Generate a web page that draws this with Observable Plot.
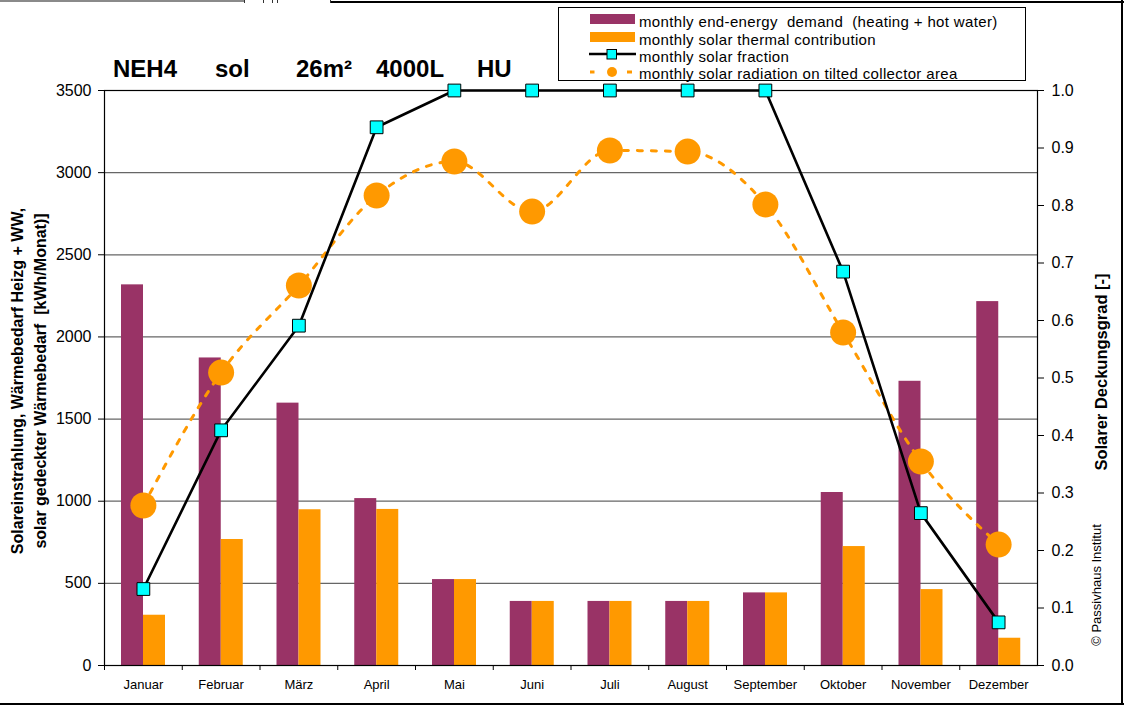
<!DOCTYPE html>
<html><head><meta charset="utf-8">
<script src="https://cdn.jsdelivr.net/npm/d3@7"></script>
<script src="https://cdn.jsdelivr.net/npm/@observablehq/plot@0.6"></script>
<style>
html,body{margin:0;padding:0;background:#fff;overflow:hidden}
#wrap{position:relative;width:1124px;height:707px;font-family:"Liberation Sans",Arial,sans-serif;color:#000}
.abs{position:absolute;white-space:pre}
.rot{position:absolute;transform:translate(-50%,-50%) rotate(-90deg);white-space:pre;text-align:center}
</style></head><body><div id="wrap"></div>
<script>
// ---- data ----
const months = ["Januar","Februar","März","April","Mai","Juni","Juli","August","September","Oktober","November","Dezember"];
const demand = [2317, 1872, 1597, 1016, 523, 390, 390, 390, 442, 1053, 1730, 2215];
const solarThermal = [306, 767, 948, 950, 523, 390, 390, 390, 442, 724, 462, 166];
const solarFraction = [0.133, 0.409, 0.591, 0.936, 1.0, 1.0, 1.0, 1.0, 1.0, 0.685, 0.265, 0.075];
const radiation = [974, 1783, 2313, 2861, 3068, 2763, 3135, 3128, 2806, 2027, 1242, 736];
const leftTicks = [0, 500, 1000, 1500, 2000, 2500, 3000, 3500];
const rightTicks = [0, 0.1, 0.2, 0.3, 0.4, 0.5, 0.6, 0.7, 0.8, 0.9, 1.0];
const titleWords = ["NEH4", "sol", "26m²", "4000L", "HU"];
const legendLabels = [
  "monthly end-energy  demand  (heating + hot water)",
  "monthly solar thermal contribution",
  "monthly solar fraction",
  "monthly solar radiation on tilted collector area"
];
const leftAxisTitle = ["Solareinstrahlung, Wärmebedarf Heizg + WW,", "solar gedeckter Wärmebedarf  [kWh/Monat)]"];
const rightAxisTitle = "Solarer Deckungsgrad [-]";
const copyright = "© Passivhaus Institut";

// ---- chart ----
const yMax = 3500;
const data = months.map((m, i) => ({month: m, demand: demand[i], solar: solarThermal[i], frac: solarFraction[i], rad: radiation[i]}));
const W = 1124, H = 707, mL = 104, mR = 87, mT = 90, mB = 42;
const bw = (W - mL - mR) / months.length;
const font = "Liberation Sans, Arial, sans-serif";

const chart = Plot.plot({
  width: W, height: H, marginLeft: mL, marginRight: mR, marginTop: mT, marginBottom: mB,
  style: {fontFamily: font, color: "#000", background: "transparent", overflow: "visible"},
  x: {type: "band", domain: months, padding: 0, round: false, axis: null},
  y: {domain: [0, yMax], axis: null},
  marks: [
    Plot.ruleY(leftTicks.filter(v => v > 0 && v < yMax), {stroke: "#666", strokeWidth: 1.2}),
    Plot.barY(data, {x: "month", y: "demand", fill: "#993366", insetLeft: 17, insetRight: bw - 39}),
    Plot.barY(data, {x: "month", y: "solar", fill: "#FF9900", insetLeft: 39, insetRight: bw - 61}),
    Plot.frame({stroke: "#000", strokeWidth: 1.2}),
    Plot.axisY({anchor: "left", ticks: leftTicks, tickSize: 6, tickPadding: 7, tickFormat: d3.format("d"), fontSize: 16, label: null}),
    Plot.axisY({anchor: "right", ticks: rightTicks.map(v => v * yMax), tickSize: 6, tickPadding: 8, tickFormat: d => (d / yMax).toFixed(1), fontSize: 16, label: null}),
    Plot.axisX({anchor: "bottom", tickSize: 0, tickPadding: 14, fontSize: 13, label: null}),
    Plot.axisX({anchor: "bottom", tickSize: 5, tickFormat: () => "", dx: -bw / 2, label: null}),
    Plot.line(data, {x: "month", y: "rad", stroke: "#FF9900", strokeWidth: 3, strokeDasharray: "5,9", curve: "monotone-x"}),
    Plot.dot(data, {x: "month", y: "rad", r: 13, fill: "#FF9900"}),
    Plot.line(data, {x: "month", y: d => d.frac * yMax, stroke: "#000", strokeWidth: 2.6}),
    Plot.dot(data, {x: "month", y: d => d.frac * yMax, symbol: "square", r: 7.2, fill: "#00FFFF", stroke: "#000", strokeWidth: 1})
  ]
});
chart.style.position = "absolute";
chart.style.left = "0px";
chart.style.top = "0px";
const wrap = document.getElementById("wrap");
wrap.appendChild(chart);

function addDiv(cls, text, css) {
  const d = document.createElement("div");
  d.className = cls;
  d.textContent = text;
  Object.assign(d.style, css);
  wrap.appendChild(d);
  return d;
}

// frame lines of the original sheet
addDiv("abs", "", {left: "0px", top: "0px", width: "244px", height: "2px", background: "#8a8a8a"});
addDiv("abs", "", {left: "330px", top: "1px", width: "794px", height: "2px", background: "#000"});
[244, 263, 272, 277, 330].forEach(x => addDiv("abs", "", {left: x + "px", top: "0px", width: "1px", height: "3px", background: "#333"}));
addDiv("abs", "", {left: "0px", top: "703px", width: "1124px", height: "2px", background: "#000"});
addDiv("abs", "", {left: "1121px", top: "0px", width: "2px", height: "705px", background: "#000"});

// title
const titleLeft = [113, 215, 296, 376, 477];
titleWords.forEach((w, i) => addDiv("abs", w, {left: titleLeft[i] + "px", top: "57px", fontSize: "24px", lineHeight: "24px", fontWeight: "bold"}));

// legend
addDiv("abs", "", {left: "558px", top: "7px", width: "468px", height: "74px", border: "1px solid #000", boxSizing: "border-box", background: "#fff"});
const rowTop = [13.5, 31.5, 48.5, 65.5];
legendLabels.forEach((t, i) => addDiv("abs", t, {left: "639px", top: rowTop[i] + "px", fontSize: "15px", lineHeight: "15px", letterSpacing: "0.35px"}));
const ns = "http://www.w3.org/2000/svg";
const sw = document.createElementNS(ns, "svg");
sw.setAttribute("width", "52"); sw.setAttribute("height", "80");
Object.assign(sw.style, {position: "absolute", left: "588px", top: "7px"});
sw.innerHTML =
  '<rect x="2" y="7" width="45" height="10" fill="#993366"/>' +
  '<rect x="2" y="25" width="45" height="10" fill="#FF9900"/>' +
  '<line x1="1" x2="48" y1="47" y2="47" stroke="#000" stroke-width="2.6"/>' +
  '<rect x="19" y="42.5" width="9.5" height="9.5" fill="#00FFFF" stroke="#000" stroke-width="1"/>' +
  '<line x1="2" x2="6.5" y1="65" y2="65" stroke="#FF9900" stroke-width="3"/>' +
  '<line x1="39" x2="44" y1="65" y2="65" stroke="#FF9900" stroke-width="3"/>' +
  '<circle cx="24" cy="65" r="5" fill="#FF9900"/>';
wrap.appendChild(sw);

// axis titles
addDiv("rot", leftAxisTitle.join("\n"), {left: "29px", top: "381px", fontSize: "16px", lineHeight: "23px", fontWeight: "bold"});
addDiv("rot", rightAxisTitle, {left: "1101px", top: "372px", fontSize: "16.5px", lineHeight: "18px", fontWeight: "bold"});
addDiv("rot", copyright, {left: "1097px", top: "585px", fontSize: "13px", lineHeight: "14px"});
</script></body></html>
